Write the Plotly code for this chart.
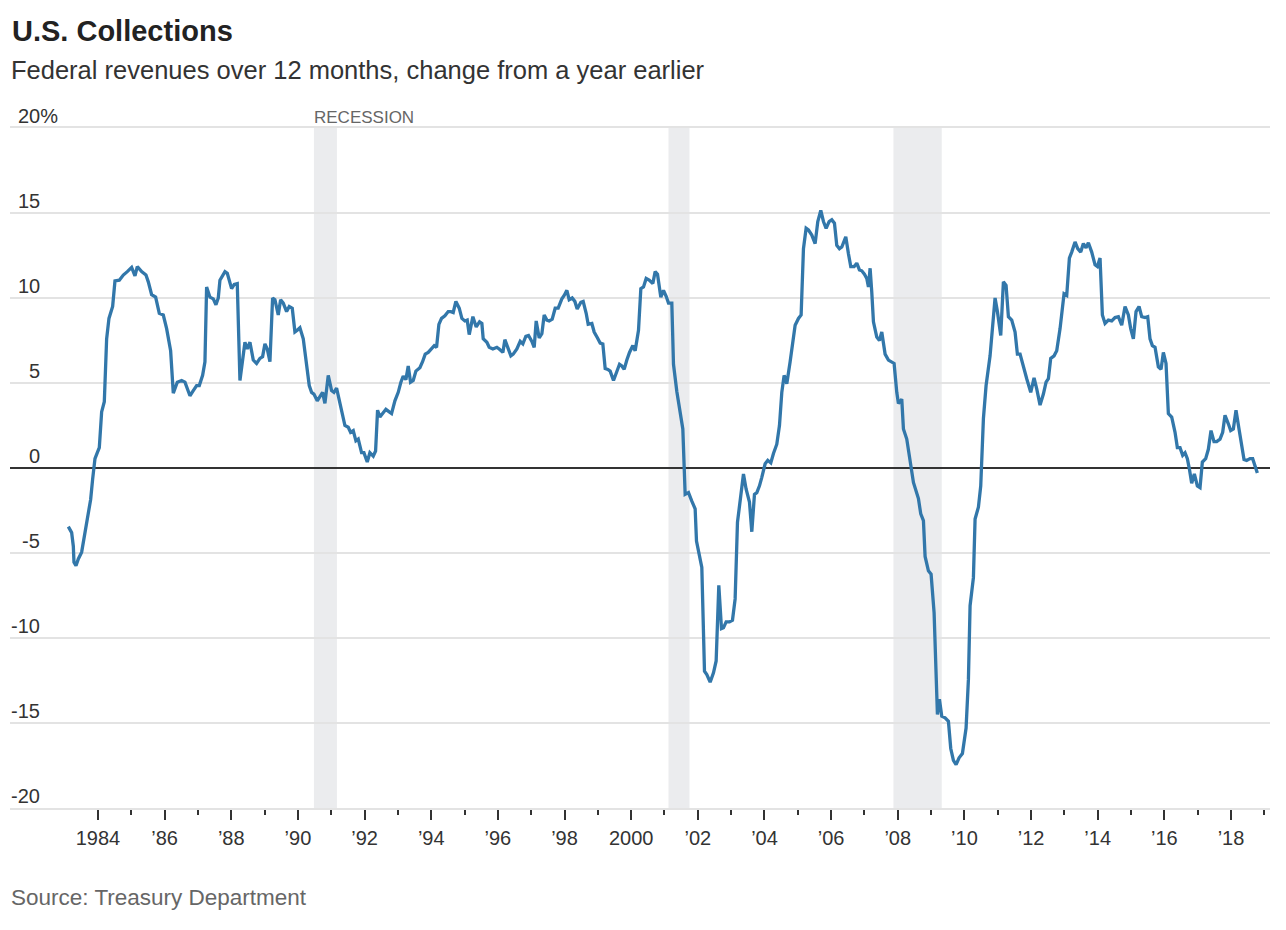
import plotly.graph_objects as go

# ---------------- data ----------------
dates = [
    1983.11, 1983.21, 1983.26, 1983.28, 1983.34, 1983.41, 1983.51, 1983.56, 1983.64, 1983.71,
    1983.78, 1983.84, 1983.91, 1983.98, 1984.04, 1984.11, 1984.19, 1984.26, 1984.33, 1984.44,
    1984.51, 1984.64, 1984.76, 1984.88, 1985.01, 1985.11, 1985.18, 1985.31, 1985.44, 1985.51,
    1985.61, 1985.73, 1985.84, 1985.96, 1986.06, 1986.18, 1986.26, 1986.38, 1986.51, 1986.61,
    1986.76, 1986.86, 1986.96, 1987.04, 1987.14, 1987.21, 1987.26, 1987.36, 1987.46, 1987.54,
    1987.61, 1987.66, 1987.81, 1987.88, 1988.01, 1988.09, 1988.18, 1988.26, 1988.36, 1988.41,
    1988.48, 1988.56, 1988.66, 1988.76, 1988.86, 1988.94, 1989.01, 1989.08, 1989.16, 1989.24,
    1989.31, 1989.41, 1989.48, 1989.56, 1989.66, 1989.74, 1989.83, 1989.91, 1989.98, 1990.06,
    1990.16, 1990.26, 1990.34, 1990.41, 1990.48, 1990.58, 1990.66, 1990.74, 1990.81, 1990.91,
    1991.01, 1991.08, 1991.16, 1991.24, 1991.31, 1991.41, 1991.51, 1991.58, 1991.66, 1991.74,
    1991.81, 1991.91, 1991.98, 1992.08, 1992.16, 1992.26, 1992.33, 1992.39, 1992.46, 1992.54,
    1992.64, 1992.74, 1992.81, 1992.91, 1993.01, 1993.09, 1993.16, 1993.24, 1993.31, 1993.38,
    1993.46, 1993.54, 1993.66, 1993.74, 1993.82, 1993.91, 1994.01, 1994.09, 1994.16, 1994.23,
    1994.31, 1994.41, 1994.51, 1994.59, 1994.66, 1994.74, 1994.84, 1994.92, 1995.01, 1995.08,
    1995.14, 1995.25, 1995.35, 1995.45, 1995.52, 1995.56, 1995.67, 1995.74, 1995.85, 1995.97,
    1996.04, 1996.15, 1996.21, 1996.30, 1996.39, 1996.46, 1996.57, 1996.67, 1996.75, 1996.84,
    1996.92, 1997.02, 1997.09, 1997.15, 1997.24, 1997.32, 1997.39, 1997.47, 1997.54, 1997.63,
    1997.72, 1997.81, 1997.92, 1997.99, 1998.07, 1998.14, 1998.23, 1998.31, 1998.38, 1998.49,
    1998.56, 1998.65, 1998.71, 1998.82, 1998.89, 1998.99, 1999.07, 1999.15, 1999.22, 1999.30,
    1999.37, 1999.47, 1999.55, 1999.65, 1999.72, 1999.79, 1999.87, 1999.95, 2000.05, 2000.12,
    2000.22, 2000.29, 2000.37, 2000.45, 2000.54, 2000.65, 2000.72, 2000.79, 2000.89, 2000.97,
    2001.05, 2001.12, 2001.22, 2001.27, 2001.37, 2001.47, 2001.55, 2001.62, 2001.72, 2001.82,
    2001.92, 2001.96, 2002.05, 2002.12, 2002.20, 2002.27, 2002.37, 2002.47, 2002.55, 2002.63,
    2002.71, 2002.77, 2002.85, 2002.95, 2003.04, 2003.12, 2003.19, 2003.28, 2003.37, 2003.45,
    2003.55, 2003.62, 2003.70, 2003.77, 2003.85, 2003.92, 2004.02, 2004.10, 2004.19, 2004.27,
    2004.37, 2004.45, 2004.52, 2004.59, 2004.67, 2004.77, 2004.85, 2004.92, 2005.02, 2005.10,
    2005.17, 2005.25, 2005.32, 2005.42, 2005.52, 2005.60, 2005.69, 2005.77, 2005.85, 2005.94,
    2006.02, 2006.10, 2006.17, 2006.25, 2006.32, 2006.44, 2006.52, 2006.59, 2006.69, 2006.77,
    2006.85, 2006.92, 2007.00, 2007.07, 2007.12, 2007.17, 2007.22, 2007.27, 2007.37, 2007.45,
    2007.52, 2007.62, 2007.72, 2007.82, 2007.89, 2007.97, 2008.02, 2008.12, 2008.17, 2008.27,
    2008.37, 2008.47, 2008.62, 2008.69, 2008.77, 2008.82, 2008.92, 2009.00, 2009.09, 2009.19,
    2009.25, 2009.32, 2009.42, 2009.52, 2009.59, 2009.67, 2009.75, 2009.84, 2009.94, 2010.05,
    2010.12, 2010.17, 2010.27, 2010.32, 2010.42, 2010.49, 2010.57, 2010.65, 2010.77, 2010.92,
    2010.99, 2011.09, 2011.17, 2011.25, 2011.32, 2011.42, 2011.52, 2011.59, 2011.67, 2011.77,
    2011.87, 2011.99, 2012.09, 2012.17, 2012.27, 2012.37, 2012.45, 2012.52, 2012.59, 2012.69,
    2012.77, 2012.87, 2012.99, 2013.07, 2013.15, 2013.22, 2013.32, 2013.40, 2013.49, 2013.57,
    2013.65, 2013.72, 2013.82, 2013.92, 2013.99, 2014.07, 2014.14, 2014.22, 2014.32, 2014.42,
    2014.52, 2014.62, 2014.72, 2014.82, 2014.92, 2014.99, 2015.07, 2015.15, 2015.24, 2015.32,
    2015.42, 2015.50, 2015.57, 2015.64, 2015.72, 2015.82, 2015.90, 2015.97, 2016.05, 2016.12,
    2016.22, 2016.32, 2016.39, 2016.47, 2016.55, 2016.62, 2016.69, 2016.75, 2016.82, 2016.90,
    2016.99, 2017.07, 2017.14, 2017.24, 2017.32, 2017.40, 2017.49, 2017.57, 2017.67, 2017.75,
    2017.82, 2017.92, 2017.99, 2018.07, 2018.15, 2018.24, 2018.33, 2018.39, 2018.47, 2018.57,
    2018.65, 2018.72, 2018.79,
]

revenue_change = [
    -3.45, -3.8, -4.6, -5.55, -5.75, -5.35, -4.95, -4.4, -3.6, -2.9,
    -1.85, -0.65, 0.55, 0.9, 1.2, 3.3, 3.9, 7.6, 8.8, 9.5,
    11.0, 11.05, 11.35, 11.55, 11.8, 11.3, 11.85, 11.55, 11.35, 10.95,
    10.2, 10.05, 9.1, 9.0, 8.2, 6.9, 4.4, 5.05, 5.15, 5.05,
    4.25, 4.55, 4.85, 4.85, 5.45, 6.25, 10.65, 10.05, 9.95, 9.6,
    10.0, 11.05, 11.55, 11.45, 10.55, 10.8, 10.85, 5.15, 6.45, 7.4,
    7.0, 7.4, 6.35, 6.15, 6.45, 6.55, 7.3, 7.0, 6.25, 10.0,
    9.9, 9.0, 9.9, 9.7, 9.2, 9.5, 9.4, 8.0, 8.1, 8.25,
    7.6, 6.25, 4.85, 4.45, 4.35, 3.95, 4.25, 4.45, 3.8, 5.45,
    4.55, 4.45, 4.7, 3.95, 3.5, 2.5, 2.4, 2.1, 2.2, 1.6,
    1.7, 0.9, 0.9, 0.35, 0.9, 0.7, 1.0, 3.4, 3.0, 3.2,
    3.45, 3.3, 3.2, 3.95, 4.45, 5.05, 5.4, 5.2, 6.0, 5.05,
    5.15, 5.7, 5.9, 6.25, 6.7, 6.8, 7.0, 7.2, 7.1, 8.45,
    8.8, 8.95, 9.2, 9.2, 9.15, 9.8, 9.4, 8.8, 8.65, 8.7,
    7.85, 8.9, 8.3, 8.6, 8.5, 7.6, 7.4, 7.1, 7.0, 7.1,
    7.0, 6.8, 7.55, 7.0, 6.6, 6.7, 7.0, 7.45, 7.3, 7.75,
    7.8, 7.45, 7.1, 8.65, 7.65, 7.9, 9.0, 8.7, 8.65, 8.75,
    9.4, 9.4, 9.95, 10.15, 10.45, 9.9, 10.0, 9.8, 9.35, 9.75,
    9.8, 9.1, 8.45, 8.5, 8.0, 7.65, 7.35, 7.3, 5.85, 5.8,
    5.7, 5.15, 5.55, 6.1, 6.0, 5.8, 6.35, 6.8, 7.2, 6.9,
    8.1, 10.55, 10.65, 11.15, 11.05, 10.85, 11.55, 11.4, 10.05, 10.45,
    10.1, 9.7, 9.7, 6.1, 4.5, 3.3, 2.3, -1.55, -1.45, -1.95,
    -2.4, -4.3, -5.2, -5.85, -11.95, -12.15, -12.6, -12.05, -11.35, -6.9,
    -9.45, -9.4, -9.05, -9.05, -8.95, -7.7, -3.2, -1.8, -0.35, -1.25,
    -2.0, -3.75, -1.55, -1.45, -1.05, -0.55, 0.25, 0.45, 0.3, 0.85,
    1.4, 2.5, 4.45, 5.45, 4.95, 6.25, 7.4, 8.4, 8.8, 9.0,
    12.9, 14.1, 14.0, 13.7, 13.2, 14.5, 15.15, 14.5, 14.1, 14.5,
    14.6, 14.4, 13.1, 12.9, 13.0, 13.6, 12.6, 11.85, 11.85, 12.05,
    11.65, 11.6, 11.4, 11.15, 10.65, 11.75, 10.35, 8.6, 7.7, 7.5,
    8.0, 6.7, 6.35, 6.25, 6.15, 4.45, 3.8, 4.05, 2.3, 1.7,
    0.35, -0.85, -1.8, -2.7, -3.1, -5.2, -6.05, -6.25, -8.5, -14.5,
    -13.6, -14.6, -14.7, -14.9, -16.5, -17.2, -17.45, -17.05, -16.8, -15.3,
    -12.45, -8.1, -6.45, -3.0, -2.3, -1.05, 2.9, 4.85, 6.6, 10.0,
    9.2, 7.8, 10.95, 10.75, 8.9, 8.7, 8.0, 6.7, 6.7, 6.05,
    5.25, 4.45, 5.3, 4.65, 3.7, 4.35, 5.05, 5.25, 6.45, 6.6,
    6.9, 8.2, 10.25, 10.15, 12.35, 12.7, 13.3, 12.9, 12.7, 13.2,
    12.95, 13.25, 12.7, 11.95, 11.85, 12.35, 9.0, 8.5, 8.7, 8.65,
    8.85, 8.9, 8.4, 9.5, 9.0, 8.2, 7.6, 9.2, 9.5, 8.9,
    8.85, 8.9, 7.6, 7.2, 7.1, 5.95, 5.8, 6.8, 6.15, 3.2,
    3.0, 2.1, 1.2, 1.2, 0.75, 0.9, 0.55, -0.05, -0.9, -0.35,
    -1.05, -1.15, 0.35, 0.55, 1.1, 2.2, 1.55, 1.55, 1.7, 2.1,
    3.1, 2.6, 2.2, 2.3, 3.4, 2.3, 1.2, 0.5, 0.45, 0.55,
    0.55, 0.15, -0.3,
]

recession_start = [1990.48, 2001.12, 2007.87]
recession_end = [1991.17, 2001.75, 2009.32]

y_tick_values = [20, 15, 10, 5, 0, -5, -10, -15, -20]
y_tick_labels = ["20%", "15", "10", "5", "0", "-5", "-10", "-15", "-20"]

x_tick_values = [1984, 1986, 1988, 1990, 1992, 1994, 1996, 1998, 2000,
                 2002, 2004, 2006, 2008, 2010, 2012, 2014, 2016, 2018]
x_tick_labels = ["1984", "\u201986", "\u201988", "\u201990", "\u201992", "\u201994",
                 "\u201996", "\u201998", "2000", "\u201902", "\u201904", "\u201906",
                 "\u201908", "\u201910", "\u201912", "\u201914", "\u201916", "\u201918"]
x_minor_values = [1985, 1987, 1989, 1991, 1993, 1995, 1997, 1999, 2001,
                  2003, 2005, 2007, 2009, 2011, 2013, 2015, 2017, 2019]

title_text = "U.S. Collections"
subtitle_text = "Federal revenues over 12 months, change from a year earlier"
source_text = "Source: Treasury Department"
recession_label = "RECESSION"

# ---------------- layout geometry ----------------
W, H = 1286, 930
ML, MR, MT, MB = 10, 16, 128, 122
PW = W - ML - MR
PH = H - MT - MB
FONT = "Liberation Sans, Arial, Helvetica, sans-serif"
GRID = "#e3e3e3"


def px(x):
    return (x - ML) / PW


def py(y):
    return (H - MB - y) / PH


fig = go.Figure()

fig.add_trace(go.Scatter(
    x=dates, y=revenue_change, mode="lines",
    line=dict(color="#3277aa", width=3.3),
    hoverinfo="skip", showlegend=False,
))

for s, e in zip(recession_start, recession_end):
    fig.add_shape(type="rect", xref="x", yref="paper", x0=s, x1=e, y0=0, y1=1,
                  fillcolor="#ebecee", line=dict(width=0), layer="below")

annotations = []
annotations.append(dict(text=title_text, xref="paper", yref="paper", x=px(10), y=py(31),
                        xanchor="left", yanchor="middle", showarrow=False,
                        font=dict(family=FONT, size=29, color="#222222", weight="bold")))
annotations.append(dict(text=subtitle_text, xref="paper", yref="paper", x=px(9), y=py(70),
                        xanchor="left", yanchor="middle", showarrow=False,
                        font=dict(family=FONT, size=25.5, color="#333333")))
annotations.append(dict(text=recession_label, xref="paper", yref="paper", x=px(312), y=py(117),
                        xanchor="left", yanchor="middle", showarrow=False,
                        font=dict(family=FONT, size=17, color="#666666")))
annotations.append(dict(text=source_text, xref="paper", yref="paper", x=px(9), y=py(897),
                        xanchor="left", yanchor="middle", showarrow=False,
                        font=dict(family=FONT, size=22.5, color="#666666")))

for v, t in zip(y_tick_values, y_tick_labels):
    if t.endswith("%"):
        ann = dict(x=px(16), xanchor="left")
    else:
        ann = dict(x=px(42), xanchor="right")
    ann.update(text=t, xref="paper", yref="y", y=v, yshift=12, yanchor="middle",
               showarrow=False, font=dict(family=FONT, size=20, color="#333333"))
    annotations.append(ann)

fig.update_layout(
    width=W, height=H,
    margin=dict(l=ML, r=MR, t=MT, b=MB, pad=0),
    paper_bgcolor="white", plot_bgcolor="white",
    showlegend=False,
    annotations=annotations,
    font=dict(family=FONT, color="#333333"),
)

fig.update_xaxes(
    range=[1981.36, 2019.17],
    showgrid=False, zeroline=False,
    showline=True, linecolor=GRID, linewidth=1.5, mirror=True,
    tickmode="array", tickvals=x_tick_values, ticktext=x_tick_labels,
    ticks="outside", ticklen=10, tickwidth=1.5, tickcolor="#333333",
    tickfont=dict(family=FONT, size=20, color="#333333"),
    ticklabelstandoff=1,
    minor=dict(tickmode="array", tickvals=x_minor_values, ticks="outside",
               ticklen=5, tickwidth=1.5, tickcolor="#333333", showgrid=False),
    fixedrange=True,
)

fig.update_yaxes(
    range=[-20, 20],
    tickmode="array", tickvals=y_tick_values, showticklabels=False,
    showgrid=True, gridcolor=GRID, gridwidth=1.5,
    zeroline=True, zerolinecolor="#333333", zerolinewidth=1.5,
    showline=False, ticks="",
    fixedrange=True,
)

fig.write_html("out.html")
